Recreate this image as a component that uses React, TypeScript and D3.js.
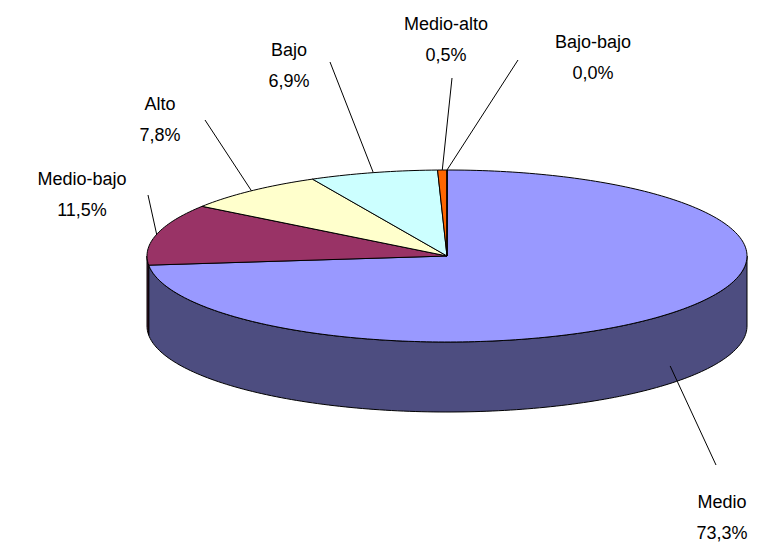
import * as d3 from "d3";

const categories = ["Medio", "Medio-bajo", "Alto", "Bajo", "Medio-alto", "Bajo-bajo"];
const values = [73.3, 11.5, 7.8, 6.9, 0.5, 0.0];
const labels = ["73,3%", "11,5%", "7,8%", "6,9%", "0,5%", "0,0%"];
const topColors = ["#9999FF", "#993366", "#FFFFCC", "#CCFFFF", "#FF6600", "#0000FF"];
const sideColors = ["#4D4D80", "#4D1A33", "#80806A", "#6A8080", "#803300", "#000080"];
// label text centres and leader elbows (layout)
const labelPos: [number, number][] = [[722, 508], [82, 185], [160, 110], [289, 56], [446, 30], [593, 48]];
const elbows: [number, number][] = [[716, 465], [148, 195], [205, 120], [330, 62], [452, 78], [518, 60]];

export default function App() {
  const width = 757, height = 546;
  const cx = 447, cy = 256, rx = 300, ry = 86, depth = 70;
  const pie = d3.pie<number>().sort(null).value((d) => d)(values);
  const pt = (a: number, dy = 0): [number, number] => [cx + rx * Math.sin(a), cy - ry * Math.cos(a) + dy];
  const arcPts = (a0: number, a1: number, dy = 0) => {
    const n = Math.max(2, Math.ceil(Math.abs(a1 - a0) / 0.02));
    return d3.range(n + 1).map((i) => pt(a0 + ((a1 - a0) * i) / n, dy));
  };
  const line = d3.line();
  const sides = pie.map((p, i) => {
    const a0 = Math.max(p.startAngle, Math.PI / 2);
    const a1 = Math.min(p.endAngle, 1.5 * Math.PI);
    if (a1 <= a0) return null;
    const pts = [...arcPts(a0, a1), ...arcPts(a1, a0, depth)];
    return <path key={"s" + i} d={line(pts) + "Z"} fill={sideColors[i]} stroke="#000" strokeWidth={1} />;
  });
  const tops = pie.map((p, i) => {
    const pts: [number, number][] = [[cx, cy], ...arcPts(p.startAngle, p.endAngle)];
    return <path key={"t" + i} d={line(pts) + "Z"} fill={topColors[i]} stroke="#000" strokeWidth={1} />;
  });
  const anchorFor = (i: number): [number, number] => {
    const p = pie[i];
    const m = (p.startAngle + p.endAngle) / 2;
    const a = pt(m);
    if (m > Math.PI / 2 && m < 1.5 * Math.PI) return [a[0], a[1] + depth * 0.75];
    return a;
  };
  return (
    <svg width={width} height={height} style={{ position: "absolute", left: 0, top: 0, background: "#fff" }}
      fontFamily="Liberation Sans, Arial, sans-serif" fontSize={18}>
      {sides}
      {tops}
      {categories.map((c, i) => {
        const a = anchorFor(i);
        const e = elbows[i];
        const [lx, ly] = labelPos[i];
        return (
          <g key={c}>
            <polyline points={`${a[0]},${a[1]} ${e[0]},${e[1]}`} fill="none" stroke="#000" />
            <text x={lx} y={ly} textAnchor="middle">{c}</text>
            <text x={lx} y={ly + 31} textAnchor="middle">{labels[i]}</text>
          </g>
        );
      })}
    </svg>
  );
}
